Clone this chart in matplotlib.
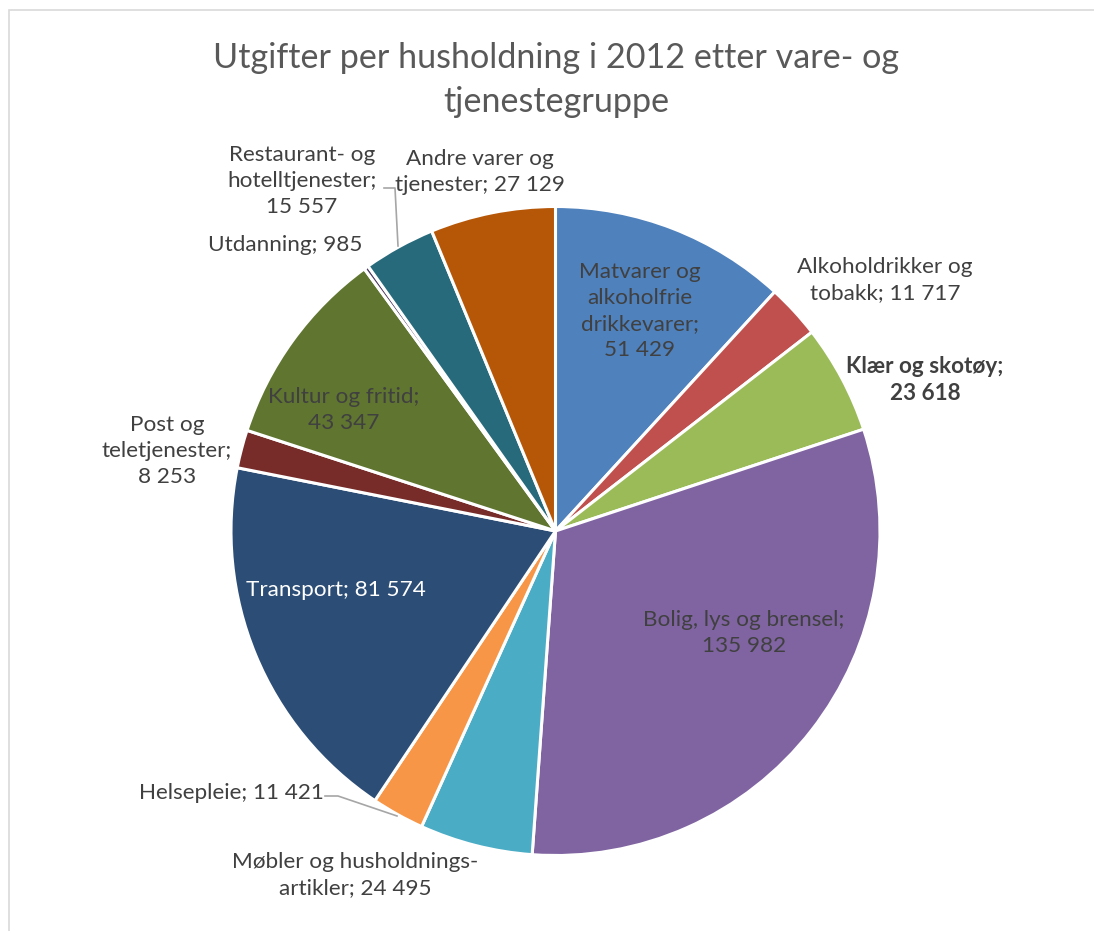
import matplotlib
matplotlib.use("Agg")
import matplotlib.pyplot as plt
from matplotlib.patches import Rectangle
from matplotlib.lines import Line2D

plt.rcParams['font.family'] = ['Lato', 'DejaVu Sans']

# data, clockwise from 12 o'clock
labels = ["Matvarer og\nalkoholfrie\ndrikkevarer;\n51 429",
          "Alkoholdrikker og\ntobakk; 11 717",
          "Klær og skotøy;\n23 618",
          "Bolig, lys og brensel;\n135 982",
          "Møbler og husholdnings-\nartikler; 24 495",
          "Helsepleie; 11 421",
          "Transport; 81 574",
          "Post og\nteletjenester;\n8 253",
          "Kultur og fritid;\n43 347",
          "Utdanning; 985",
          "Restaurant- og\nhotelltjenester;\n15 557",
          "Andre varer og\ntjenester; 27 129"]
values = [51429, 11717, 23618, 135982, 24495, 11421, 81574, 8253, 43347, 985, 15557, 27129]
colors = ["#4F81BD", "#C0504D", "#9BBB59", "#8064A2", "#4BACC6", "#F79646",
          "#2C4D75", "#772C2A", "#5F7530", "#4D3B62", "#276A7C", "#B65708"]

W, H = 1094, 931
fig = plt.figure(figsize=(W / 100, H / 100), dpi=100)

def fx(px):
    return px / W

def fy(py):
    return 1 - py / H

# chart border (left/top visible)
fig.patches.append(Rectangle((fx(8.5), -0.1), 2, fy(10.5) + 0.1, transform=fig.transFigure,
                             fill=False, edgecolor="#D9D9D9", linewidth=1.2))

# pie axes
cx, cy, r = 555.5, 531, 324.5
ax = fig.add_axes([fx(cx - r), fy(cy + r), 2 * r / W, 2 * r / H])
ax.pie(values, colors=colors, startangle=90, counterclock=False, radius=1,
       wedgeprops=dict(edgecolor="white", linewidth=2.2))
ax.set_xlim(-1, 1)
ax.set_ylim(-1, 1)
ax.set_aspect("auto")
ax.axis("off")

# title
fig.text(fx(556), fy(80), "Utgifter per husholdning i 2012 etter vare- og\ntjenestegruppe",
         ha="center", va="center", fontsize=24.6, color="#595959", linespacing=1.45)

# label positions (pixel centres)
label_pos = [(640, 311), (885, 280), (925, 380), (744, 633), (355, 875), (231, 793),
             (336, 590), (167, 451), (344, 410), (285, 245), (302, 181), (480, 172)]
text_colors = ["#404040"] * 12
text_colors[6] = "white"
weights = ["normal"] * 12
weights[2] = "bold"

for lab, (px, py), tc, w in zip(labels, label_pos, text_colors, weights):
    fig.text(fx(px), fy(py), lab, ha="center", va="center", fontsize=16.2,
             color=tc, fontweight=w, linespacing=1.38)

# leader lines
leaders = [[(384, 188), (395, 188), (398, 246)],
           [(325, 796), (338, 796), (397, 816)]]
for pts in leaders:
    xs = [fx(p[0]) for p in pts]
    ys = [fy(p[1]) for p in pts]
    fig.lines.append(Line2D(xs, ys, transform=fig.transFigure, color="#A6A6A6", linewidth=1.2))

fig.savefig("out.png", dpi=100)
